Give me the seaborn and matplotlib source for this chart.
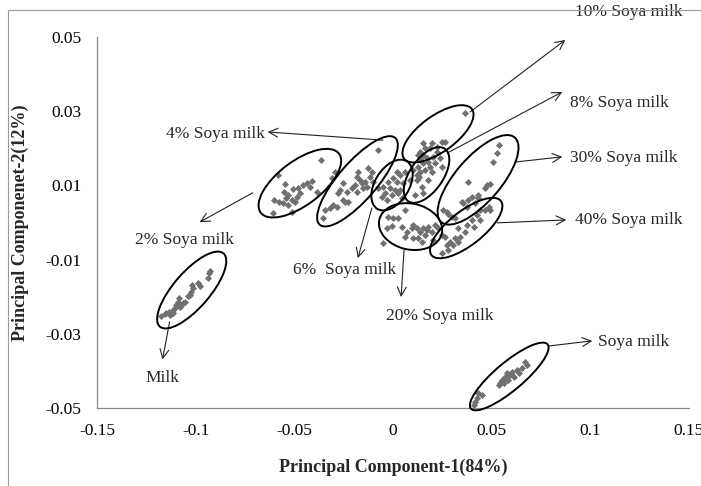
import numpy as np
import pandas as pd
import matplotlib
matplotlib.use('Agg')
import matplotlib.pyplot as plt
import matplotlib.transforms as mtransforms
from matplotlib.patches import Ellipse, Rectangle
import seaborn as sns

# PCA scores, one pair of arrays per sample group
milk_x = [-0.1174, -0.1157, -0.1149, -0.1136, -0.1132, -0.1123, -0.1115, -0.1115, -0.1107, -0.1098,
          -0.1090, -0.1085, -0.1081, -0.1073, -0.1064, -0.1056, -0.1039, -0.1030, -0.1022, -0.1014,
          -0.1017, -0.0988, -0.0980, -0.0938, -0.0933, -0.0925]
milk_y = [-0.0252, -0.0247, -0.0245, -0.0240, -0.0249, -0.0243, -0.0236, -0.0245, -0.0231, -0.0222,
          -0.0213, -0.0204, -0.0229, -0.0222, -0.0218, -0.0213, -0.0198, -0.0195, -0.0187, -0.0177,
          -0.0168, -0.0164, -0.0171, -0.0150, -0.0137, -0.0130]

soy2_x = [-0.0585, -0.0545, -0.0552, -0.0531, -0.0506, -0.0489, -0.0472, -0.0455, -0.0438, -0.0413,
          -0.0603, -0.0579, -0.0557, -0.0531, -0.0514, -0.0608, -0.0514, -0.0367, -0.0387, -0.0311,
          -0.0497, -0.0294, -0.0421, -0.0481, -0.0540]
soy2_y = [0.0128, 0.0103, 0.0081, 0.0074, 0.0089, 0.0070, 0.0079, 0.0101, 0.0106, 0.0113,
          0.0061, 0.0056, 0.0052, 0.0047, 0.0061, 0.0025, 0.0029, 0.0168, 0.0083, 0.0119,
          0.0056, 0.0137, 0.0096, 0.0092, 0.0065]

soy4_x = [-0.0075, -0.0125, -0.0108, -0.0176, -0.0184, -0.0168, -0.0159, -0.0142, -0.0151, -0.0193,
          -0.0210, -0.0252, -0.0269, -0.0252, -0.0244, -0.0227, -0.0303, -0.0286, -0.0320, -0.0345,
          -0.0354, -0.0117, -0.0100, -0.0134, -0.0235, -0.0184, -0.0278]
soy4_y = [0.0195, 0.0146, 0.0137, 0.0137, 0.0123, 0.0115, 0.0106, 0.0110, 0.0092, 0.0101,
          0.0092, 0.0106, 0.0088, 0.0061, 0.0056, 0.0056, 0.0047, 0.0043, 0.0038, 0.0034,
          0.0011, 0.0123, 0.0110, 0.0096, 0.0083, 0.0083, 0.0079]

soy6_x = [0.0019, 0.0036, 0.0002, -0.0024, 0.0019, -0.0015, 0.0010, 0.0036, -0.0049, -0.0075,
          -0.0041, -0.0007, 0.0027, 0.0052, 0.0044, -0.0032, -0.0057, 0.0061]
soy6_y = [0.0137, 0.0128, 0.0119, 0.0110, 0.0110, 0.0092, 0.0088, 0.0088, 0.0096, 0.0092,
          0.0079, 0.0074, 0.0079, 0.0106, 0.0065, 0.0061, 0.0070, 0.0137]

soy8_x = [0.0086, 0.0120, 0.0146, 0.0112, 0.0154, 0.0179, 0.0205, 0.0213, 0.0171, 0.0154,
          0.0128, 0.0137, 0.0162, 0.0188, 0.0120, 0.0196, 0.0154, 0.0222, 0.0103, 0.0239,
          0.0247, 0.0178, 0.0142, 0.0132]
soy8_y = [0.0115, 0.0115, 0.0096, 0.0074, 0.0079, 0.0115, 0.0177, 0.0160, 0.0173, 0.0160,
          0.0150, 0.0137, 0.0142, 0.0150, 0.0128, 0.0137, 0.0182, 0.0191, 0.0142, 0.0173,
          0.0150, 0.0163, 0.0168, 0.0123]

soy10_x = [0.0365, 0.0154, 0.0196, 0.0188, 0.0247, 0.0264, 0.0162, 0.0137, 0.0222, 0.0127]
soy10_y = [0.0296, 0.0213, 0.0213, 0.0200, 0.0218, 0.0218, 0.0200, 0.0191, 0.0204, 0.0182]

soy20_x = [0.0061, -0.0024, 0.0002, 0.0027, -0.0032, -0.0007, 0.0044, 0.0103, 0.0095, 0.0120,
           0.0137, 0.0154, 0.0171, 0.0179, 0.0162, 0.0128, 0.0146, 0.0103, 0.0070, 0.0196,
           0.0061, 0.0213, -0.0049, 0.0230, 0.0205]
soy20_y = [0.0034, 0.0016, 0.0011, 0.0013, -0.0016, -0.0009, -0.0011, -0.0007, -0.0016, -0.0016,
           -0.0025, -0.0016, -0.0020, -0.0011, -0.0034, -0.0043, -0.0052, -0.0043, -0.0025, -0.0025,
           -0.0038, -0.0007, -0.0056, -0.0016, -0.0047]

soy30_x = [0.0535, 0.0526, 0.0508, 0.0382, 0.0476, 0.0492, 0.0467, 0.0433, 0.0399, 0.0382,
           0.0357, 0.0416, 0.0374, 0.0273, 0.0281, 0.0298, 0.0255, 0.0315, 0.0349, 0.0433]
soy30_y = [0.0209, 0.0187, 0.0164, 0.0110, 0.0101, 0.0103, 0.0092, 0.0074, 0.0070, 0.0061,
           0.0052, 0.0052, 0.0043, 0.0029, 0.0022, 0.0016, 0.0034, 0.0011, 0.0056, 0.0065]

soy40_x = [0.0484, 0.0467, 0.0442, 0.0425, 0.0399, 0.0374, 0.0365, 0.0331, 0.0340, 0.0315,
           0.0289, 0.0306, 0.0273, 0.0281, 0.0247, 0.0264, 0.0442, 0.0408, 0.0492, 0.0331, 0.0247]
soy40_y = [0.0043, 0.0034, 0.0034, 0.0020, 0.0007, -0.0007, -0.0025, -0.0016, -0.0038, -0.0043,
           -0.0052, -0.0061, -0.0061, -0.0074, -0.0083, -0.0038, 0.0007, -0.0011, 0.0034, -0.0052, -0.0034]

soya_x = [0.0416, 0.0425, 0.0450, 0.0433, 0.0535, 0.0543, 0.0552, 0.0569, 0.0577, 0.0594,
          0.0585, 0.0603, 0.0611, 0.0628, 0.0636, 0.0653, 0.0670, 0.0679, 0.0408, 0.0560]
soya_y = [-0.0483, -0.0474, -0.0465, -0.0460, -0.0438, -0.0433, -0.0424, -0.0416, -0.0407, -0.0411,
          -0.0424, -0.0402, -0.0416, -0.0398, -0.0406, -0.0393, -0.0375, -0.0384, -0.0491, -0.0433]

groups = ['Milk', '2% Soya milk', '4% Soya milk', '6%  Soya milk', '8% Soya milk', '10% Soya milk',
          '20% Soya milk', '30% Soya milk', '40% Soya milk', 'Soya milk']
xs = [milk_x, soy2_x, soy4_x, soy6_x, soy8_x, soy10_x, soy20_x, soy30_x, soy40_x, soya_x]
ys = [milk_y, soy2_y, soy4_y, soy6_y, soy8_y, soy10_y, soy20_y, soy30_y, soy40_y, soya_y]

# ellipse centre (data), size in inches and angle in degrees (screen space)
ell_cx = [-0.1020, -0.0472, -0.0180, -0.0005, 0.0170, 0.0228, 0.0089, 0.0431, 0.0371, 0.0589]
ell_cy = [-0.0182, 0.0106, 0.0111, 0.0101, 0.0128, 0.0239, -0.0011, 0.0115, -0.0015, -0.0415]
ell_w = [0.97, 0.98, 1.15, 0.56, 0.64, 0.84, 0.64, 1.12, 0.88, 1.00]
ell_h = [0.36, 0.44, 0.38, 0.34, 0.33, 0.36, 0.46, 0.45, 0.34, 0.28]
ell_ang = [49, 37, 49, 58, 55, 36, -12, 49, 38, 40]

# label position, arrow tail and arrow head (data coordinates)
lab_x = [-0.1168, -0.1056, -0.0650, -0.0244, 0.0898, 0.0924, 0.0239, 0.0898, 0.0924, 0.1041]
lab_y = [-0.0419, -0.0047, 0.0239, -0.0128, 0.0322, 0.0567, -0.0252, 0.0174, 0.0007, -0.0322]
lab_ha = ['center', 'center', 'right', 'center', 'left', 'left', 'center', 'left', 'left', 'left']
tail_x = [-0.1132, -0.0711, -0.0051, -0.0107, 0.0274, 0.0391, 0.0056, 0.0619, 0.0528, 0.0787]
tail_y = [-0.0268, 0.0080, 0.0222, 0.0039, 0.0187, 0.0298, -0.0074, 0.0163, -0.0001, -0.0333]
head_x = [-0.1168, -0.0980, -0.0635, -0.0178, 0.0858, 0.0873, 0.0041, 0.0858, 0.0878, 0.1010]
head_y = [-0.0369, 0.0001, 0.0244, -0.0096, 0.0352, 0.0492, -0.0201, 0.0177, 0.0007, -0.0319]

x_ticks = [-0.15, -0.1, -0.05, 0, 0.05, 0.1, 0.15]
x_ticklabels = ['-0.15', '-0.1', '-0.05', '0', '0.05', '0.1', '0.15']
y_ticks = [-0.05, -0.03, -0.01, 0.01, 0.03, 0.05]
y_ticklabels = ['-0.05', '-0.03', '-0.01', '0.01', '0.03', '0.05']

rows = []
for g, gx, gy in zip(groups, xs, ys):
    for a, b in zip(gx, gy):
        rows.append((g, a, b))
df = pd.DataFrame(rows, columns=['group', 'pc1', 'pc2'])

sns.set_style('white')
plt.rcParams['font.family'] = ['Liberation Serif', 'DejaVu Serif']

fig = plt.figure(figsize=(7.01, 4.86), dpi=100)
ax = fig.add_axes([97 / 701, 1 - 408 / 486, 592 / 701, 371 / 486])

sns.scatterplot(data=df, x='pc1', y='pc2', color='#707070', marker='D', s=13,
                linewidth=0, legend=False, ax=ax, zorder=3)

ax.set_xlim(-0.15, 0.15)
ax.set_ylim(-0.05, 0.05)
ax.set_xticks(x_ticks)
ax.set_xticklabels(x_ticklabels)
ax.set_yticks(y_ticks)
ax.set_yticklabels(y_ticklabels)
ax.tick_params(axis='both', direction='out', length=5, width=0.8,
               labelsize=12.5, pad=6, colors='#8c8c8c', labelcolor='black')
for s in ['top', 'right']:
    ax.spines[s].set_visible(False)
for s in ['left', 'bottom']:
    ax.spines[s].set_color('#8c8c8c')
    ax.spines[s].set_linewidth(0.9)

ax.set_xlabel('Principal Component-1(84%)', fontsize=13, fontweight='bold', labelpad=14)
ax.set_ylabel('Principal Componenet-2(12%)', fontsize=13, fontweight='bold', labelpad=12)

# ellipses drawn in screen space around each group
for cx, cy, w, h, a in zip(ell_cx, ell_cy, ell_w, ell_h, ell_ang):
    tr = fig.dpi_scale_trans + mtransforms.ScaledTranslation(cx, cy, ax.transData)
    e = Ellipse((0, 0), w, h, angle=a, transform=tr, fill=False, edgecolor='black',
                linewidth=1.4, zorder=4, clip_on=False)
    ax.add_patch(e)

for i, g in enumerate(groups):
    ax.annotate('', xy=(head_x[i], head_y[i]), xytext=(tail_x[i], tail_y[i]),
                arrowprops=dict(arrowstyle='->', color='#222222', lw=0.8,
                                shrinkA=0, shrinkB=0, mutation_scale=16),
                annotation_clip=False)
    ax.text(lab_x[i], lab_y[i], g, ha=lab_ha[i], va='center', fontsize=12.5, clip_on=False)

# chart area border
fig.patches.append(Rectangle((8 / 701, -0.1), 1.2, 1 - 10 / 486 + 0.1, transform=fig.transFigure,
                             fill=False, edgecolor='#9a9a9a', linewidth=0.8))

fig.savefig('out.png', dpi=100)
